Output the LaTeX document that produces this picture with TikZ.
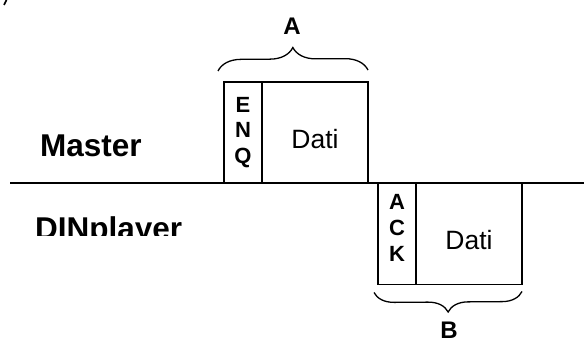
\documentclass[tikz,border=0pt]{standalone}
\usepackage{fontspec}
\setmainfont{Liberation Sans}
\usetikzlibrary{decorations.pathreplacing}

% pad a box above (#1) or below (#2) so that it sits off centre in its node
\newcommand{\padbox}[3]{\raisebox{0pt}[\dimexpr\height+#1\relax][\dimexpr\depth+#2\relax]{#3}}

\begin{document}
\begin{tikzpicture}[
		x=1pt, y=-1pt,
		frame/.style={draw=black, line width=1.6pt, inner sep=0pt, outer sep=0pt},
		hdr/.style={frame, minimum width=38pt, minimum height=101pt, align=center,
			font=\fontsize{22}{25.5}\selectfont\bfseries},
		payload/.style={frame, minimum width=106pt, minimum height=101pt,
			font=\fontsize{26.5}{30}\selectfont},
		role/.style={anchor=base west, inner sep=0pt, font=\fontsize{31.5}{36}\selectfont\bfseries},
		brace/.style={decorate, decoration={brace, amplitude=#1}, line width=1.3pt},
		tag/.style={font=\fontsize{24}{28}\selectfont\bfseries}
		]
		\useasboundingbox (0,0) rectangle (584,342);
		
		% leftover mark in the corner
		\draw[line width=1.6pt] (4,5) -- (6.5,0);
		
		% time axis between the two stations
		\coordinate (axisL) at (10,183);
		\coordinate (axisR) at (584,183);
		\draw[line width=1.6pt] (axisL) -- (axisR);
		
		% station names
		\node[role] (master) at (40,157) {Master};
		\begin{scope}
			\clip (0,200) rectangle (300,235.5);
			\node[role] (slave) at (35,240) {DINplayer};
		\end{scope}
		
		% ---------------------------------------------------------
		% Master frame: ENQ + data, above the axis
		% ---------------------------------------------------------
		\node[hdr] (enq) at (243,132.5) {E\\N\\Q};
		\node[payload, anchor=south west] (datiM) at (enq.south east) {\padbox{14pt}{0pt}{Dati}};
		\draw[brace=23pt] ([xshift=-6pt,yshift=11pt]enq.north west)
			-- ([yshift=12pt]datiM.north east);
		\node[tag] (lblA) at (292,26) {A};
		
		% ---------------------------------------------------------
		% DINplayer answer: ACK + data, below the axis
		% ---------------------------------------------------------
		\node[hdr] (ack) at (397,234) {\padbox{0pt}{7pt}{\begin{tabular}{@{}c@{}}A\\[0.5pt]C\\[0.5pt]K\end{tabular}}};
		\node[payload, anchor=north west] (datiS) at (ack.north east) {\padbox{12pt}{0pt}{Dati}};
		\draw[brace=20pt] ([yshift=-7pt]datiS.south east)
			-- ([xshift=-4pt,yshift=-8pt]ack.south west);
		\node[tag] (lblB) at (449,330) {B};
		
	\end{tikzpicture}
\end{document}
